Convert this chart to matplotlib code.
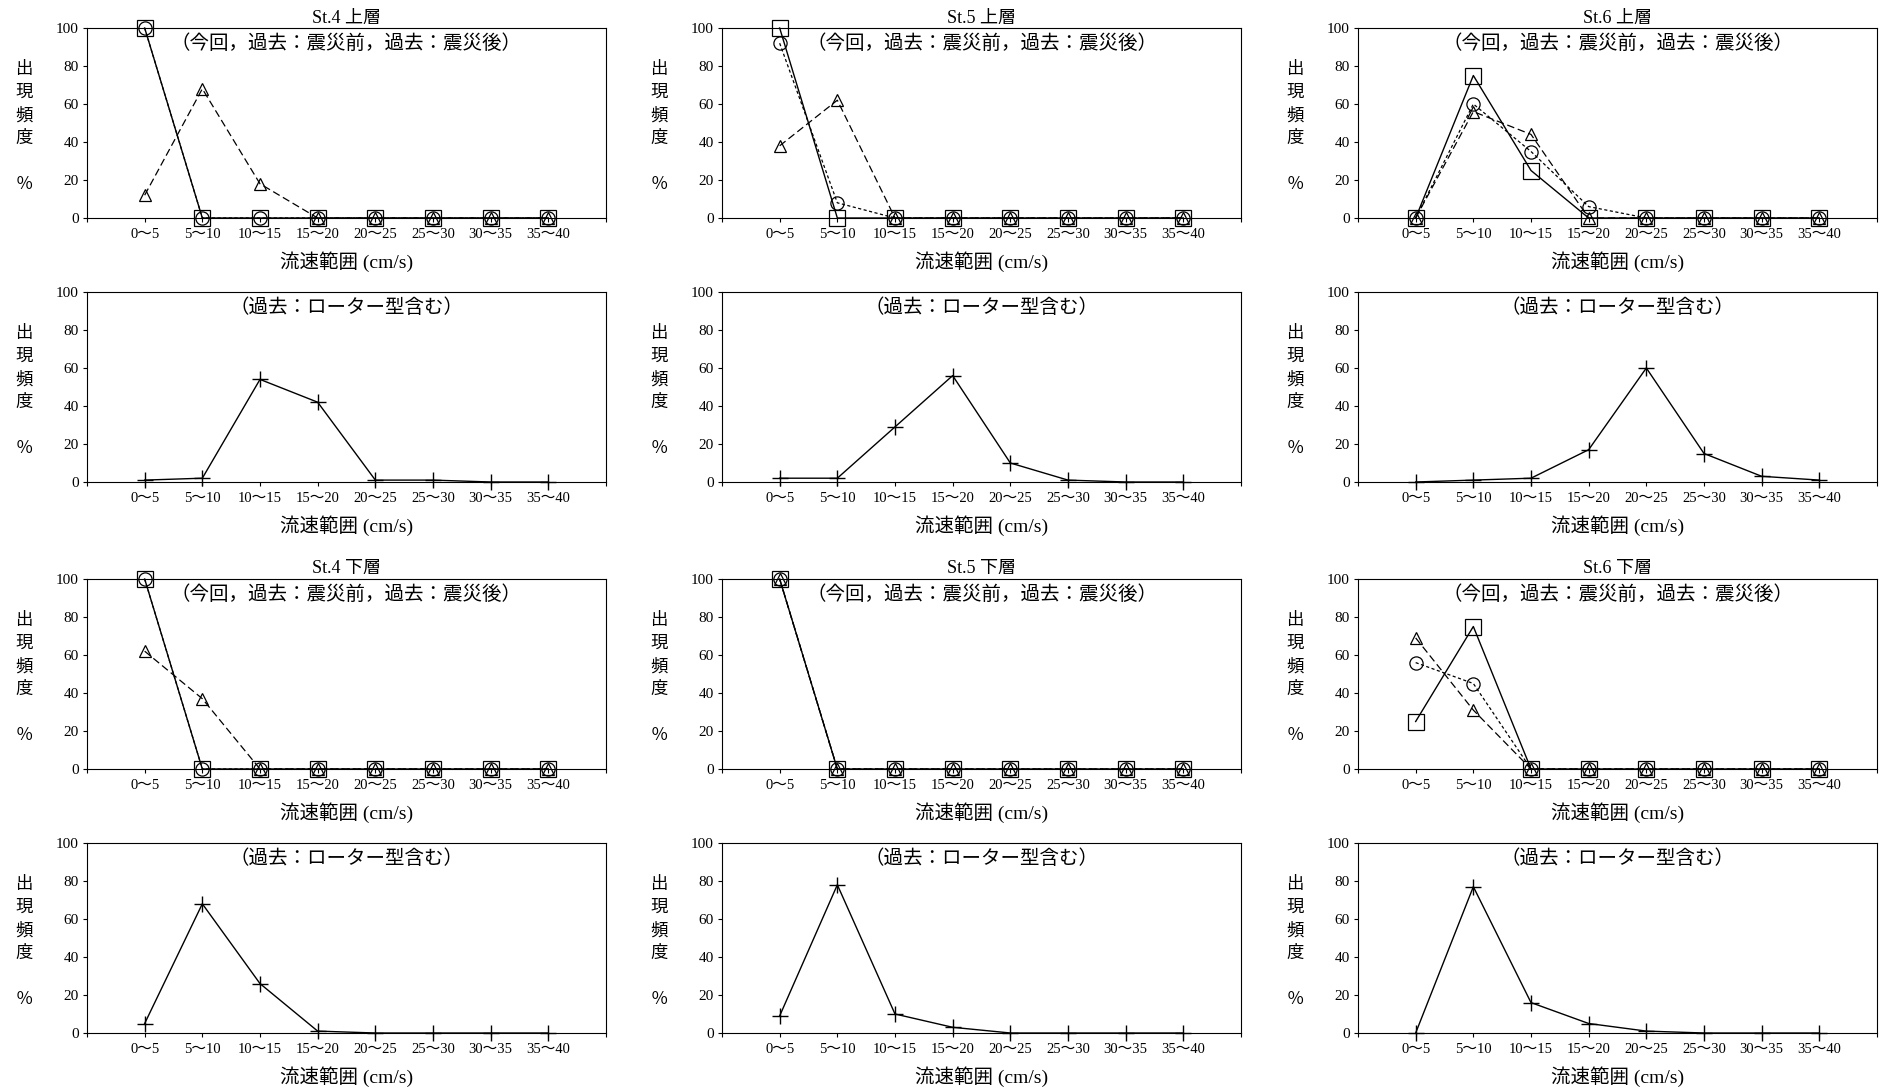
import numpy as np
import matplotlib
matplotlib.use("Agg")
import matplotlib.pyplot as plt
from matplotlib.transforms import offset_copy

plt.rcParams['font.family'] = ['Liberation Serif', 'Noto Sans CJK JP']

categories = ["0～5", "5～10", "10～15", "15～20", "20～25", "25～30", "30～35", "35～40"]

# 上層 (今回 / 過去：震災前 / 過去：震災後 / 過去：ローター型含む)
st4_up_now = [100, 0, 0, 0, 0, 0, 0, 0]
st4_up_before = [100, 0, 0, 0, 0, 0, 0, 0]
st4_up_after = [12, 68, 18, 0, 0, 0, 0, 0]
st4_up_rotor = [1, 2, 54, 42, 1, 1, 0, 0]

st5_up_now = [100, 0, 0, 0, 0, 0, 0, 0]
st5_up_before = [92, 8, 0, 0, 0, 0, 0, 0]
st5_up_after = [38, 62, 0, 0, 0, 0, 0, 0]
st5_up_rotor = [2, 2, 29, 56, 10, 1, 0, 0]

st6_up_now = [0, 75, 25, 0, 0, 0, 0, 0]
st6_up_before = [0, 60, 35, 6, 0, 0, 0, 0]
st6_up_after = [0, 56, 44, 0, 0, 0, 0, 0]
st6_up_rotor = [0, 1, 2, 17, 60, 15, 3, 1]

# 下層
st4_lo_now = [100, 0, 0, 0, 0, 0, 0, 0]
st4_lo_before = [100, 0, 0, 0, 0, 0, 0, 0]
st4_lo_after = [62, 37, 0, 0, 0, 0, 0, 0]
st4_lo_rotor = [5, 68, 26, 1, 0, 0, 0, 0]

st5_lo_now = [100, 0, 0, 0, 0, 0, 0, 0]
st5_lo_before = [100, 0, 0, 0, 0, 0, 0, 0]
st5_lo_after = [100, 0, 0, 0, 0, 0, 0, 0]
st5_lo_rotor = [9, 78, 10, 3, 0, 0, 0, 0]

st6_lo_now = [25, 75, 0, 0, 0, 0, 0, 0]
st6_lo_before = [56, 45, 0, 0, 0, 0, 0, 0]
st6_lo_after = [69, 31, 0, 0, 0, 0, 0, 0]
st6_lo_rotor = [0, 77, 16, 5, 1, 0, 0, 0]

W, H = 1889, 1089
fig = plt.figure(figsize=(W / 100, H / 100), dpi=100)

col_left = [87, 722, 1358]
row_top = [28, 292, 579, 843]
ax_w = 519
ax_h = 190

x = np.arange(len(categories))


def add_ax(col, row):
    l = col_left[col]
    t = row_top[row]
    return fig.add_axes([l / W, 1 - (t + ax_h) / H, ax_w / W, ax_h / H])


def style_axes(ax, subtitle, title=None):
    ax.set_xlim(-1, 8)
    ax.set_ylim(0, 100)
    ax.set_xticks(np.arange(-1, 9))
    ax.set_xticklabels([""] + categories + [""])
    ax.set_yticks(range(0, 101, 20))
    ax.tick_params(direction='out', length=3, width=0.8)
    ax.tick_params(axis='x', pad=4, labelsize=10.5)
    ax.tick_params(axis='y', pad=3, labelsize=11)
    for s in ax.spines.values():
        s.set_linewidth(0.8)
    ax.text(0.5, 0, "流速範囲 (cm/s)", ha='center', va='center', fontsize=14,
            transform=offset_copy(ax.transAxes, fig=fig, x=0, y=-44, units='dots'))
    ylab = ["出", "現", "頻", "度", "", "％"]
    for i, ch in enumerate(ylab):
        if ch:
            ax.text(0, 1, ch, ha='center', va='center', fontsize=12.5,
                    transform=offset_copy(ax.transAxes, fig=fig, x=-63,
                                          y=-(42 + i * 23), units='dots'))
    ax.text(0.5, 1, subtitle, ha='center', va='center', fontsize=14,
            transform=offset_copy(ax.transAxes, fig=fig, x=0, y=-16, units='dots'))
    if title:
        ax.text(0.5, 1, title, ha='center', va='center', fontsize=13,
                transform=offset_copy(ax.transAxes, fig=fig, x=0, y=10, units='dots'))


def draw_compare(ax, now, before, after):
    ax.plot(x, now, color='black', lw=1.0, ls='-', marker='s', ms=11,
            mfc='none', mec='black', mew=0.9, clip_on=False)
    ax.plot(x, before, color='black', lw=0.9, ls=(0, (2.5, 2)), marker='o', ms=9.5,
            mfc='none', mec='black', mew=0.9, clip_on=False)
    ax.plot(x, after, color='black', lw=0.9, ls=(0, (6, 3)), marker='^', ms=9,
            mfc='none', mec='black', mew=0.9, clip_on=False)


def draw_rotor(ax, rotor):
    ax.plot(x, rotor, color='black', lw=1.0, ls='-', marker='+', ms=11,
            mew=1.0, clip_on=False)


sub_cmp = "（今回，過去：震災前，過去：震災後）"
sub_rot = "（過去：ローター型含む）"

compare_sets = [
    (0, 0, "St.4 上層", st4_up_now, st4_up_before, st4_up_after),
    (1, 0, "St.5 上層", st5_up_now, st5_up_before, st5_up_after),
    (2, 0, "St.6 上層", st6_up_now, st6_up_before, st6_up_after),
    (0, 2, "St.4 下層", st4_lo_now, st4_lo_before, st4_lo_after),
    (1, 2, "St.5 下層", st5_lo_now, st5_lo_before, st5_lo_after),
    (2, 2, "St.6 下層", st6_lo_now, st6_lo_before, st6_lo_after),
]
rotor_sets = [
    (0, 1, st4_up_rotor), (1, 1, st5_up_rotor), (2, 1, st6_up_rotor),
    (0, 3, st4_lo_rotor), (1, 3, st5_lo_rotor), (2, 3, st6_lo_rotor),
]

for col, row, title, now, before, after in compare_sets:
    ax = add_ax(col, row)
    draw_compare(ax, now, before, after)
    style_axes(ax, sub_cmp, title)

for col, row, rotor in rotor_sets:
    ax = add_ax(col, row)
    draw_rotor(ax, rotor)
    style_axes(ax, sub_rot)

fig.savefig("out.png", dpi=100, facecolor='white')
